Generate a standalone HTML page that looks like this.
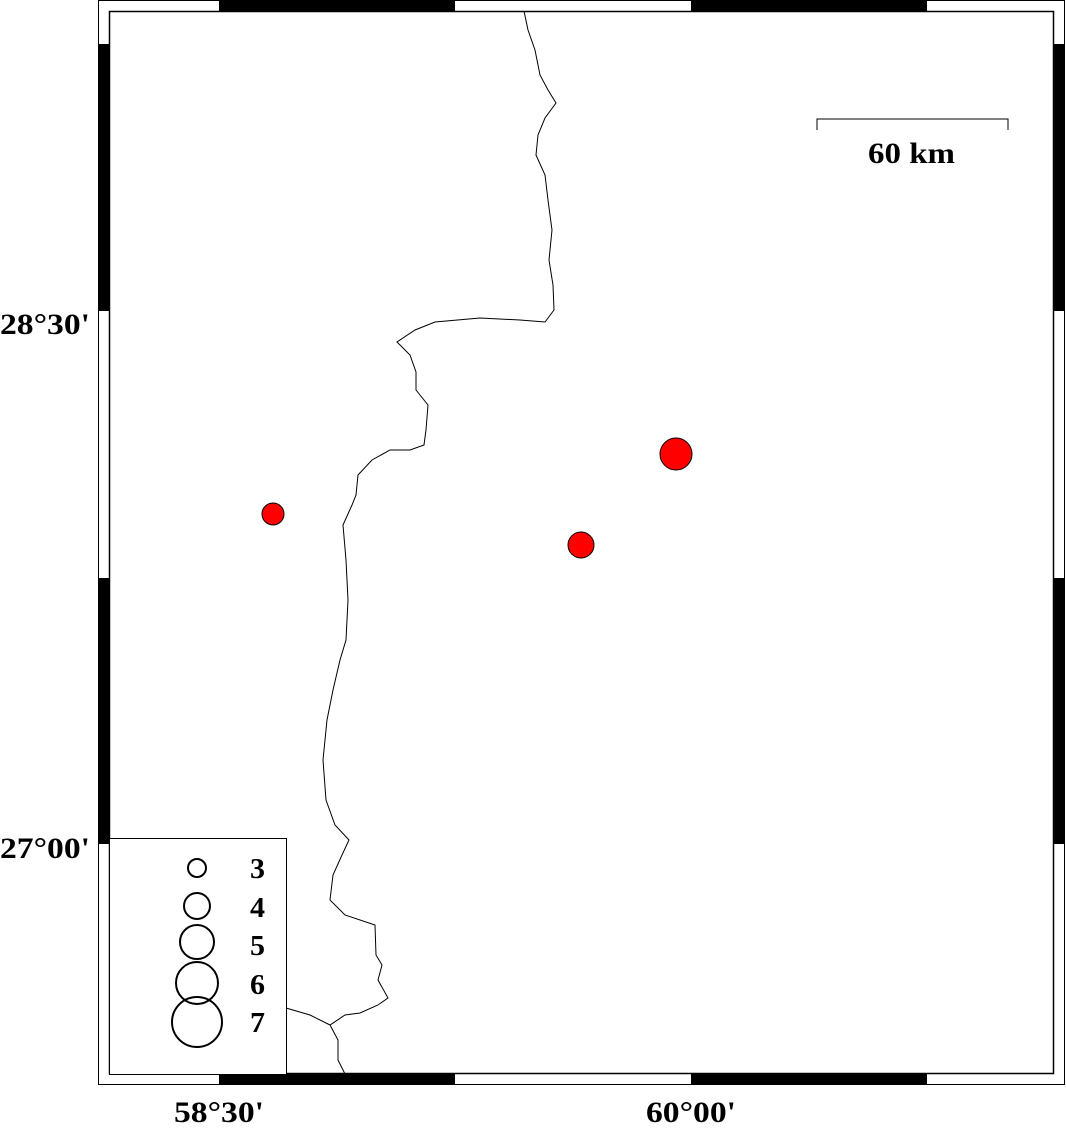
<!DOCTYPE html>
<html><head><style>body{margin:0;background:#fff}</style></head><body>
<svg width="1066" height="1123" xmlns="http://www.w3.org/2000/svg" font-family="'Liberation Serif', serif" font-weight="bold">
<rect x="0" y="0" width="1066" height="1123" fill="#fff"/>
<rect x="98.5" y="0.5" width="966" height="1084" fill="none" stroke="#000" stroke-width="1"/>
<rect x="109.5" y="11.5" width="944" height="1062" fill="none" stroke="#000" stroke-width="1.5"/>
<g fill="#000">
<rect x="219" y="0" width="236" height="11"/><rect x="691" y="0" width="236" height="11"/>
<rect x="219" y="1074" width="236" height="11"/><rect x="691" y="1074" width="236" height="11"/>
<rect x="98" y="44" width="11" height="267"/><rect x="98" y="578" width="11" height="266"/>
<rect x="1054" y="44" width="11" height="267"/><rect x="1054" y="578" width="11" height="266"/>
</g>
<polyline fill="none" stroke="#000" stroke-width="1" points="524,11 528,30 535,50 540,75 548,90 556,103 545,118 538,135 536,155 545,175 548,200 552,230 549,260 553,285 554,310 545,322 520,320 480,318 435,322 415,330 397,342 410,355 416,372 416,390 428,405 426,430 424,445 410,450 390,450 372,460 358,475 356,495 352,505 343,525 346,560 348,600 346,640 340,660 333,690 327,720 323,760 326,800 335,825 349,840 342,855 333,875 330,900 345,915 375,925 376,955 382,965 378,980 388,998 378,1005 360,1013 345,1015 330,1025 310,1015 286,1008"/>
<polyline fill="none" stroke="#000" stroke-width="1" points="330,1025 338,1040 338,1060 345,1074"/>
<polyline fill="none" stroke="#000" stroke-width="1" points="817,130 817,119 1008,119 1008,130"/>
<text x="868" y="163" font-size="30" textLength="87" lengthAdjust="spacingAndGlyphs">60 km</text>
<g fill="#f00" stroke="#000" stroke-width="1">
<circle cx="273" cy="514" r="11"/><circle cx="581" cy="545" r="13"/><circle cx="676" cy="454" r="16"/>
</g>
<rect x="109.5" y="838.5" width="177" height="236" fill="#fff" stroke="#000" stroke-width="1"/>
<g fill="none" stroke="#000" stroke-width="2">
<circle cx="197" cy="868" r="9"/><circle cx="197" cy="906" r="13"/><circle cx="197" cy="942" r="17"/><circle cx="197" cy="983" r="21"/><circle cx="197" cy="1022" r="25"/>
</g>
<g font-size="28">
<text x="250" y="878" textLength="15" lengthAdjust="spacingAndGlyphs">3</text><text x="250" y="917" textLength="15" lengthAdjust="spacingAndGlyphs">4</text><text x="250" y="955" textLength="15" lengthAdjust="spacingAndGlyphs">5</text><text x="250" y="994" textLength="15" lengthAdjust="spacingAndGlyphs">6</text><text x="250" y="1032" textLength="15" lengthAdjust="spacingAndGlyphs">7</text>
</g>
<g font-size="30">
<text x="0" y="334" textLength="90" lengthAdjust="spacingAndGlyphs">28°30'</text>
<text x="0" y="858" textLength="90" lengthAdjust="spacingAndGlyphs">27°00'</text>
<text x="174" y="1122" textLength="90" lengthAdjust="spacingAndGlyphs">58°30'</text>
<text x="646" y="1122" textLength="90" lengthAdjust="spacingAndGlyphs">60°00'</text>
</g>
</svg>
</body></html>
